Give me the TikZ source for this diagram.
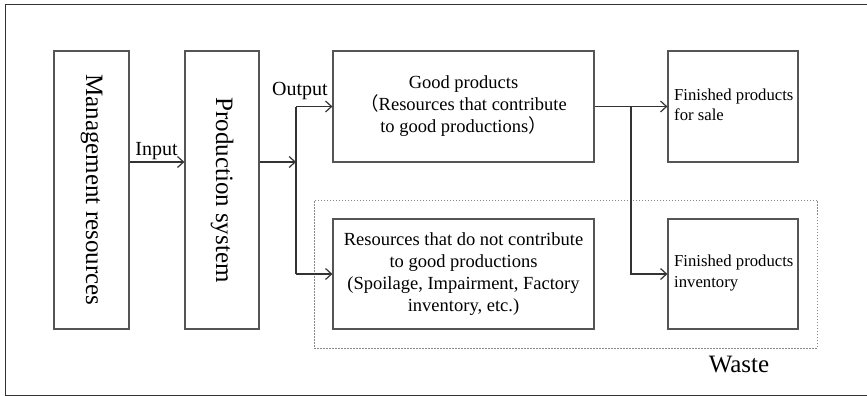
\documentclass[tikz,border=0pt]{standalone}
\usepackage{fontspec}
\setmainfont{Liberation Serif}
\newfontfamily\cjkfont{Noto Sans CJK JP}
\usetikzlibrary{arrows.meta}
\definecolor{boxgray}{HTML}{555555}
\definecolor{linegray}{HTML}{333333}
\definecolor{dotgray}{HTML}{888888}
\begin{document}
\begin{tikzpicture}[x=1pt,y=-1pt,
  box/.style={draw=boxgray, line width=1.2pt, inner sep=0pt},
  conn/.style={draw=linegray, line width=1.2pt, -{Straight Barb[length=6pt,width=11pt,line width=1.2pt]}},
  plain/.style={draw=linegray, line width=1.2pt},
  maintext/.style={align=center, font=\fontsize{18.5}{22}\selectfont},
  fintext/.style={align=left, anchor=west, inner sep=0pt, font=\fontsize{16.7}{20.5}\selectfont},
  bigtext/.style={font=\fontsize{25}{28}\selectfont},
  lbltext/.style={font=\fontsize{20}{24}\selectfont},
]
\useasboundingbox (0,0) rectangle (867,396);
\draw[draw=linegray, line width=1.3pt] (5.5,4.5) rectangle (875,395.5);

% boxes
\node[box, minimum width=75pt, minimum height=278pt] (mgmt) at (91.5,190) {};
\node[box, minimum width=74pt, minimum height=278pt] (prod) at (222,190) {};
\node[box, minimum width=261pt, minimum height=111pt] (good) at (463.5,106.5) {};
\node[box, minimum width=261pt, minimum height=110pt] (res) at (463.5,274) {};
\node[box, minimum width=130pt, minimum height=111pt] (sale) at (733,106.5) {};
\node[box, minimum width=130pt, minimum height=110pt] (inv) at (733,274) {};
\node[draw=dotgray, line width=1pt, dash pattern=on 1.5pt off 1.5pt, minimum width=503pt, minimum height=148pt, inner sep=0pt] (wastebox) at (565.5,274) {};

% texts
\node[bigtext, rotate=-90] (mgmtlbl) at (mgmt.center) {Management resources};
\node[bigtext, rotate=-90] (prodlbl) at (prod.center) {Production system};
\node[maintext] (goodlbl) at (good.center) {Good products\\{\cjkfont （}Resources that contribute\\to good productions{\cjkfont ）}};
\node[maintext] (reslbl) at (res.center) {Resources that do not contribute\\to good productions\\(Spoilage, Impairment, Factory\\inventory, etc.)};
\node[fintext] (salelbl) at (674,105) {Finished products\\for sale};
\node[fintext] (invlbl) at (674,273) {Finished products\\inventory};
\node[bigtext] (wastelbl) at (739,364) {Waste};
\node[lbltext] (inputlbl) at (156.5,151) {Input};
\node[lbltext] (outputlbl) at (300,91) {Output};

% connectors
\coordinate (inY) at (0,162);
\coordinate (split) at (296,162);
\coordinate (split2) at (631,106.5);
\draw[conn] (mgmt.east |- inY) -- (prod.west |- inY);
\draw[conn] (prod.east |- inY) -- (split);
\draw[plain] (split |- good.west) -- (split |- res.west);
\draw[conn] (split |- good.west) -- (good.west);
\draw[conn] (split |- res.west) -- (res.west);
\draw[conn] (good.east) -- (sale.west);
\draw[conn] (split2) |- (inv.west);
\end{tikzpicture}
\end{document}
